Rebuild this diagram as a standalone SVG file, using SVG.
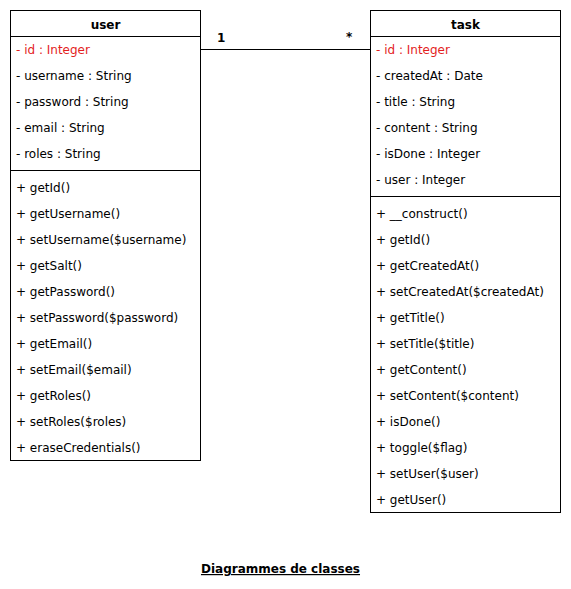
<svg xmlns="http://www.w3.org/2000/svg" width="571" height="589" viewBox="0 0 571 589">
<style>
.box{fill:#fff;stroke:#000;stroke-width:1}
.sep{stroke:#000;stroke-width:1}
text{font-family:"DejaVu Sans",Verdana,sans-serif;font-size:12px;fill:#000}
.hd{font-weight:bold;text-anchor:middle}
.pk{fill:#e31e1e}
.lbl{font-weight:bold}
.title{font-weight:bold;text-anchor:middle;text-decoration:underline}
</style>
<rect width="571" height="589" fill="#fff"/>
<g id="connectors">
<line x1="200.5" y1="49.5" x2="370.5" y2="49.5" class="sep"/>
<text class="lbl" x="217" y="42">1</text>
<text class="lbl" x="346" y="41">*</text>
</g>
<g id="user">
<rect class="box" x="10.5" y="10.5" width="190" height="450"/>
<line class="sep" x1="10.5" y1="36.5" x2="200.5" y2="36.5"/>
<line class="sep" x1="10.5" y1="170.5" x2="200.5" y2="170.5"/>
<text class="hd" x="105.5" y="29">user</text>
<text class="pk" x="16" y="54">- id : Integer</text>
<text x="16" y="80">- username : String</text>
<text x="16" y="106">- password : String</text>
<text x="16" y="132">- email : String</text>
<text x="16" y="158">- roles : String</text>
<text x="16" y="192">+ getId()</text>
<text x="16" y="218">+ getUsername()</text>
<text x="16" y="244">+ setUsername($username)</text>
<text x="16" y="270">+ getSalt()</text>
<text x="16" y="296">+ getPassword()</text>
<text x="16" y="322">+ setPassword($password)</text>
<text x="16" y="348">+ getEmail()</text>
<text x="16" y="374">+ setEmail($email)</text>
<text x="16" y="400">+ getRoles()</text>
<text x="16" y="426">+ setRoles($roles)</text>
<text x="16" y="452">+ eraseCredentials()</text>
</g>
<g id="task">
<rect class="box" x="370.5" y="10.5" width="190" height="502"/>
<line class="sep" x1="370.5" y1="36.5" x2="560.5" y2="36.5"/>
<line class="sep" x1="370.5" y1="196.5" x2="560.5" y2="196.5"/>
<text class="hd" x="465.5" y="29">task</text>
<text class="pk" x="376" y="54">- id : Integer</text>
<text x="376" y="80">- createdAt : Date</text>
<text x="376" y="106">- title : String</text>
<text x="376" y="132">- content : String</text>
<text x="376" y="158">- isDone : Integer</text>
<text x="376" y="184">- user : Integer</text>
<text x="376" y="218">+ __construct()</text>
<text x="376" y="244">+ getId()</text>
<text x="376" y="270">+ getCreatedAt()</text>
<text x="376" y="296">+ setCreatedAt($createdAt)</text>
<text x="376" y="322">+ getTitle()</text>
<text x="376" y="348">+ setTitle($title)</text>
<text x="376" y="374">+ getContent()</text>
<text x="376" y="400">+ setContent($content)</text>
<text x="376" y="426">+ isDone()</text>
<text x="376" y="452">+ toggle($flag)</text>
<text x="376" y="478">+ setUser($user)</text>
<text x="376" y="504">+ getUser()</text>
</g>
<g id="caption">
<text class="title" x="280.5" y="573">Diagrammes de classes</text>
</g>
</svg>
